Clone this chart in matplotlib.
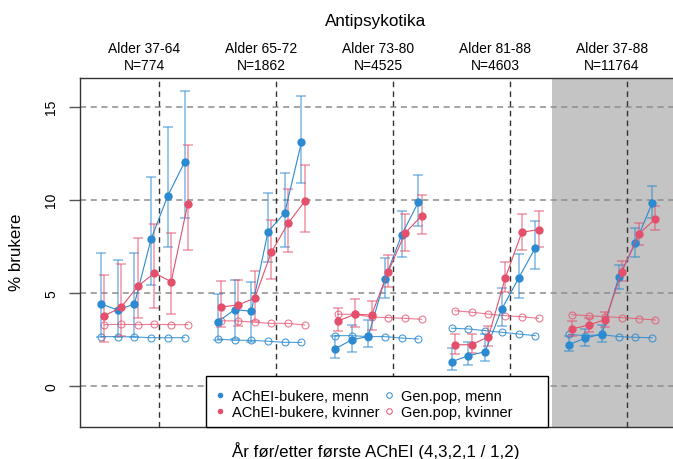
import numpy as np
import matplotlib.pyplot as plt
from matplotlib.lines import Line2D
from matplotlib.patches import Rectangle
from matplotlib.transforms import blended_transform_factory

plt.rcParams["font.family"] = ["Liberation Sans", "DejaVu Sans"]

# Data, one row per age group, 6 years each (4,3,2,1 before / 1,2 after)
ages = ["Alder 37-64", "Alder 65-72", "Alder 73-80", "Alder 81-88", "Alder 37-88"]
n_users = ["N=774", "N=1862", "N=4525", "N=4603", "N=11764"]

men = [[4.39, 4.07, 4.39, 7.89, 10.21, 12.01],
       [3.44, 4.09, 4.00, 8.28, 9.29, 13.08],
       [1.97, 2.46, 2.65, 5.74, 8.10, 9.86],
       [1.29, 1.61, 1.83, 4.12, 5.77, 7.40],
       [2.20, 2.56, 2.78, 5.83, 7.67, 9.81]]
men_lo = [[2.60, 2.62, 2.60, 5.43, 7.47, 9.00],
          [2.45, 2.50, 2.33, 6.63, 7.47, 10.90],
          [1.47, 1.79, 2.06, 4.71, 6.90, 8.60],
          [0.86, 1.11, 1.34, 3.19, 4.70, 6.27],
          [1.88, 2.15, 2.33, 5.20, 6.94, 9.00]]
men_hi = [[7.13, 6.76, 7.13, 11.24, 13.89, 15.86],
          [4.91, 5.67, 5.56, 10.36, 11.42, 15.56],
          [2.69, 3.26, 3.53, 6.85, 9.41, 11.35],
          [2.01, 2.33, 2.78, 5.24, 7.08, 8.87],
          [2.69, 3.05, 3.26, 6.51, 8.48, 10.72]]

women = [[3.76, 4.21, 5.34, 6.06, 5.59, 9.79],
         [4.23, 4.34, 4.70, 7.17, 8.73, 9.91],
         [3.48, 3.84, 3.80, 6.13, 8.19, 9.14],
         [2.20, 2.20, 2.64, 5.77, 8.25, 8.39],
         [3.05, 3.26, 3.55, 6.13, 8.16, 8.96]]
women_lo = [[2.33, 2.66, 3.62, 4.16, 3.84, 7.31],
            [3.14, 3.19, 3.49, 5.74, 7.17, 8.25],
            [2.92, 3.14, 3.01, 5.29, 7.26, 8.14],
            [1.70, 1.76, 2.15, 5.02, 7.31, 7.47],
            [2.66, 2.87, 3.14, 5.61, 7.56, 8.39]]
women_hi = [[5.97, 6.53, 7.92, 8.71, 8.19, 12.94],
            [5.61, 5.68, 6.18, 8.89, 10.58, 11.88],
            [4.19, 4.66, 4.57, 7.04, 9.25, 10.27],
            [2.78, 2.78, 3.19, 6.63, 9.25, 9.41],
            [3.46, 3.62, 3.95, 6.72, 8.75, 9.68]]

genpop_men = [[2.64, 2.64, 2.62, 2.58, 2.58, 2.58],
              [2.51, 2.44, 2.44, 2.39, 2.33, 2.33],
              [2.69, 2.69, 2.64, 2.64, 2.56, 2.51],
              [3.09, 3.05, 2.96, 2.87, 2.78, 2.69],
              [2.76, 2.69, 2.74, 2.64, 2.60, 2.58]]
genpop_women = [[3.28, 3.30, 3.28, 3.30, 3.28, 3.28],
                [3.49, 3.48, 3.41, 3.35, 3.35, 3.26],
                [3.84, 3.84, 3.69, 3.66, 3.62, 3.57],
                [4.03, 3.95, 3.85, 3.76, 3.71, 3.62],
                [3.82, 3.76, 3.71, 3.66, 3.60, 3.53]]

blue = "#2b8ad0"
pink = "#e4506b"

W, H = 673, 460
fig = plt.figure(figsize=(W / 100, H / 100), dpi=100)
ax = fig.add_axes([80.3 / W, 32 / H, (680 - 80.3) / W, 349 / H])
ax.set_xlim(-0.34, 35.57)
ax.set_ylim(-2.22, 16.54)

# shaded "all ages" panel
ax.axvspan(27.9, 40, color="#c4c4c4", lw=0, zorder=0)

for y in [0, 5, 10, 15]:
    ax.axhline(y, color="#8c8c8c", lw=1.1, ls=(0, (4, 3)), zorder=1)

off = 0.1
for p in range(5):
    x = 7 * p + np.arange(1, 7)
    ax.axvline(7 * p + 4.4, color="#333333", lw=1.0, ls=(0, (4, 3)), zorder=1)

    # general population
    ax.plot(x - off, genpop_men[p], color=blue, alpha=0.85, lw=0.8, marker="o",
            ms=5, mfc="none", mew=0.8, zorder=2)
    ax.plot(x + off, genpop_women[p], color=pink, alpha=0.75, lw=0.8, marker="o",
            ms=5, mfc="none", mew=0.8, zorder=2)

    # AChEI users
    m = np.array(men[p])
    ax.errorbar(x - off, m, yerr=[m - np.array(men_lo[p]), np.array(men_hi[p]) - m],
                fmt="none", ecolor=blue, alpha=0.6, elinewidth=1.1, capsize=3.6,
                capthick=1.1, zorder=3)
    ax.plot(x - off, m, color=blue, lw=0.8, marker="o", ms=6, mew=0, zorder=4)

    w = np.array(women[p])
    ax.errorbar(x + off, w, yerr=[w - np.array(women_lo[p]), np.array(women_hi[p]) - w],
                fmt="none", ecolor=pink, alpha=0.6, elinewidth=1.1, capsize=3.6,
                capthick=1.1, zorder=3)
    ax.plot(x + off, w, color=pink, lw=0.8, marker="o", ms=6, mew=0, zorder=4)

    # group headers above the plot
    tr = blended_transform_factory(ax.transData, fig.transFigure)
    ax.text(7 * p + 3.5, 1 - 52.7 / H, ages[p], transform=tr, ha="center",
            va="baseline", fontsize=10)
    ax.text(7 * p + 3.5, 1 - 69.5 / H, n_users[p], transform=tr, ha="center",
            va="baseline", fontsize=10)

fig.text(376 / W, 1 - 26 / H, "Antipsykotika", ha="center", va="baseline", fontsize=12.3)
fig.text(376 / W, 1 - 451 / H, "År før/etter første AChEI (4,3,2,1 / 1,2)",
         ha="center", va="center", fontsize=12.2)
fig.text(17 / W, 1 - 252 / H, "% brukere", ha="center", va="center",
         rotation=90, fontsize=12.2)

ax.set_xticks([])
ax.set_yticks([0, 5, 10, 15])
ax.set_yticklabels(["0", "5", "10", "15"], rotation=90, va="center")
ax.tick_params(axis="y", length=8, width=1, color="#555555", pad=8, labelsize=10)
for s in ax.spines.values():
    s.set_color("#333333")
    s.set_linewidth(1)

# legend box
ax.add_patch(Rectangle(((206 - 80.3) / 599.7, 0), 342 / 599.7, 51 / 349,
                       transform=ax.transAxes, facecolor="white", edgecolor="black",
                       lw=1, zorder=6, clip_on=False))
handles = [
    Line2D([], [], ls="none", marker="o", ms=4, color=blue, mew=0),
    Line2D([], [], ls="none", marker="o", ms=4, color=pink, mew=0),
    Line2D([], [], ls="none", marker="o", ms=4, mfc="none", mec=blue, mew=0.7),
    Line2D([], [], ls="none", marker="o", ms=4, mfc="none", mec=pink, mew=0.7),
]
labels = ["AChEI-bukere, menn", "AChEI-bukere, kvinner", "Gen.pop, menn", "Gen.pop, kvinner"]
leg = ax.legend(handles, labels, ncol=2, frameon=False, fontsize=10.5,
                loc="upper left", bbox_to_anchor=(214 / W, 1 - 390 / H),
                bbox_transform=fig.transFigure, borderpad=0, borderaxespad=0,
                handlelength=0.85, handletextpad=0.38, columnspacing=0.25,
                labelspacing=0.12)
leg.set_zorder(7)

fig.savefig("out.png", dpi=100)
